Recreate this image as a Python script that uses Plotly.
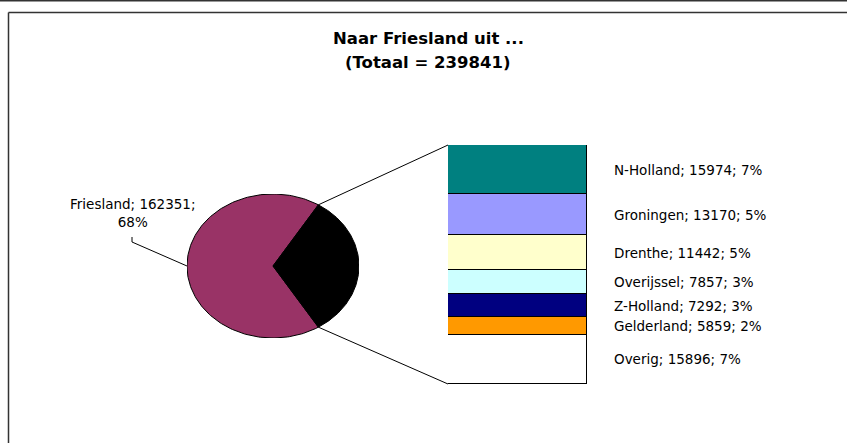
import numpy as np
import plotly.graph_objects as go

# Herkomst van verhuizingen naar Friesland
main_label = "Friesland"
main_value = 162351
other_labels = ["N-Holland", "Groningen", "Drenthe", "Overijssel", "Z-Holland", "Gelderland", "Overig"]
other_values = [15974, 13170, 11442, 7857, 7292, 5859, 15896]
other_colors = ["#008080", "#9999FF", "#FFFFCC", "#CCFFFF", "#000080", "#FF9900", "#FFFFFF"]
main_color = "#993366"
rest_color = "#000000"

W, H = 847, 443
total = main_value + sum(other_values)
rest_total = sum(other_values)

FONT = "DejaVu Sans"


def px(x):
    return x / W


def py(y):
    return 1 - y / H


# subplot placement (pixels)
pie_box = (187, 359, 194, 338)   # left, right, top, bottom
bar_box = (448, 587, 145, 384)

pie_dx = [px(pie_box[0]), px(pie_box[1])]
pie_dy = [py(pie_box[3]), py(pie_box[2])]
bar_dx = [px(bar_box[0]), px(bar_box[1])]
bar_dy = [py(bar_box[3]), py(bar_box[2])]


def pie_to_paper(x, y):
    return (pie_dx[0] + (x + 1) / 2 * (pie_dx[1] - pie_dx[0]),
            pie_dy[0] + (y + 1) / 2 * (pie_dy[1] - pie_dy[0]))


def wedge(a0, a1, n=200):
    t = np.linspace(a0, a1, n)
    xs = np.concatenate([[0], np.cos(t), [0]])
    ys = np.concatenate([[0], np.sin(t), [0]])
    return xs, ys


half = np.pi * rest_total / total

fig = go.Figure()

xs, ys = wedge(half, 2 * np.pi - half)
fig.add_trace(go.Scatter(x=xs, y=ys, fill="toself", fillcolor=main_color, mode="lines",
                         line=dict(color="black", width=1), hoverinfo="skip",
                         xaxis="x", yaxis="y", showlegend=False))
xs, ys = wedge(-half, half)
fig.add_trace(go.Scatter(x=xs, y=ys, fill="toself", fillcolor=rest_color, mode="lines",
                         line=dict(color="black", width=1), hoverinfo="skip",
                         xaxis="x", yaxis="y", showlegend=False))

# stacked bar, first category on top
for lab, val, col in reversed(list(zip(other_labels, other_values, other_colors))):
    fig.add_trace(go.Bar(x=[0], y=[val], width=1, marker=dict(color=col, line=dict(color="black", width=1)),
                         xaxis="x2", yaxis="y2", showlegend=False, hoverinfo="skip"))

annotations = []
# labels next to the bar
cum = rest_total
for lab, val in zip(other_labels, other_values):
    mid = cum - val / 2
    cum -= val
    pct = round(100 * val / total)
    annotations.append(dict(x=px(612), y=mid, xref="paper", yref="y2", xanchor="left", yanchor="middle",
                            text=f"{lab}; {val}; {pct}%", showarrow=False,
                            font=dict(family=FONT, size=13.5, color="black")))

# main slice label
annotations.append(dict(x=px(133), y=py(213), xref="paper", yref="paper", xanchor="center", yanchor="middle",
                        text=f"{main_label}; {main_value};<br>{round(100 * main_value / total)}%",
                        showarrow=False, align="center",
                        font=dict(family=FONT, size=13.5, color="black")))

# title
annotations.append(dict(x=px(428), y=py(38), xref="paper", yref="paper", xanchor="center", yanchor="middle",
                        text="<b>Naar Friesland uit ...</b>", showarrow=False,
                        font=dict(family=FONT, size=16.5, color="black")))
annotations.append(dict(x=px(428), y=py(62), xref="paper", yref="paper", xanchor="center", yanchor="middle",
                        text=f"<b>(Totaal = {total})</b>", showarrow=False,
                        font=dict(family=FONT, size=16.5, color="black")))

shapes = []
# connector lines between pie and bar
tx, ty = pie_to_paper(np.cos(half), np.sin(half))
bx, by = pie_to_paper(np.cos(-half), np.sin(-half))
shapes.append(dict(type="line", xref="paper", yref="paper", x0=tx, y0=ty, x1=bar_dx[0], y1=bar_dy[1],
                   line=dict(color="black", width=1)))
shapes.append(dict(type="line", xref="paper", yref="paper", x0=bx, y0=by, x1=bar_dx[0], y1=bar_dy[0],
                   line=dict(color="black", width=1)))
# leader line for the main label
lx, ly = pie_to_paper(-1, 0)
shapes.append(dict(type="path", xref="paper", yref="paper",
                   path=f"M {px(132)},{py(237)} L {px(132)},{py(242)} L {lx},{ly}",
                   line=dict(color="black", width=1)))
# chart frame
shapes.append(dict(type="line", xref="paper", yref="paper", x0=0, y0=py(0.5), x1=1, y1=py(0.5),
                   line=dict(color="#333333", width=2)))
shapes.append(dict(type="line", xref="paper", yref="paper", x0=px(8.5), y0=py(12.5), x1=1, y1=py(12.5),
                   line=dict(color="#333333", width=1.5)))
shapes.append(dict(type="line", xref="paper", yref="paper", x0=px(8.5), y0=py(12.5), x1=px(8.5), y1=0,
                   line=dict(color="#333333", width=1.5)))

hidden = dict(visible=False, fixedrange=True)
fig.update_layout(
    width=W, height=H,
    margin=dict(l=0, r=0, t=0, b=0),
    paper_bgcolor="white", plot_bgcolor="rgba(0,0,0,0)",
    barmode="stack", bargap=0,
    xaxis=dict(domain=pie_dx, range=[-1, 1], **hidden),
    yaxis=dict(domain=pie_dy, range=[-1, 1], **hidden),
    xaxis2=dict(domain=bar_dx, range=[-0.5, 0.5], anchor="y2", **hidden),
    yaxis2=dict(domain=bar_dy, range=[0, rest_total], anchor="x2", **hidden),
    annotations=annotations,
    shapes=shapes,
)

fig.write_html("out.html")
